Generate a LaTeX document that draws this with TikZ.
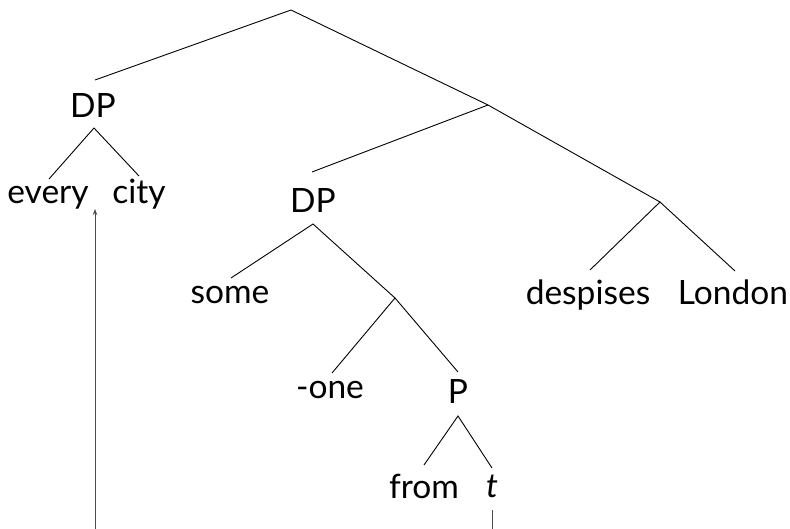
\documentclass[tikz,border=0pt]{standalone}
\usepackage{fontspec}
\setmainfont{Lato}
\usetikzlibrary{arrows.meta}
\begin{document}
\begin{tikzpicture}[x=1pt,y=-1pt,
  lbl/.style={inner sep=0pt,anchor=base,font=\fontsize{33.5}{36}\selectfont},
  branch/.style={line width=0.9pt,black},
  move/.style={line width=0.9pt,black!70}]
\useasboundingbox (0,0) rectangle (790,529);

% branching points and line ends
\coordinate (root) at (291,10);
\coordinate (vp) at (488,105);
\coordinate (vbar) at (660,202);
\coordinate (np) at (395,298);
\coordinate (dpAtop) at (95,80);
\coordinate (dpAbot) at (94,128);
\coordinate (everytop) at (49,179);
\coordinate (citytop) at (139,176);
\coordinate (dpBtop) at (312,172);
\coordinate (dpBbot) at (313,224);
\coordinate (sometop) at (231,278);
\coordinate (onetop) at (332,373);
\coordinate (ptop) at (458,372);
\coordinate (pbot) at (458,416);
\coordinate (fromtop) at (424,465);
\coordinate (ttop) at (492,468);
\coordinate (despisestop) at (590,270);
\coordinate (londontop) at (735,271);
\coordinate (tbot) at (492,510);
\coordinate (tend) at (492,529);
\coordinate (arrstart) at (95,529);
\coordinate (arrend) at (95,209);

% labels (placed on their baselines)
\node[lbl] (dpA) at (93,118) {DP};
\node[lbl] (every) at (48,204) {every};
\node[lbl] (city) at (139,204) {city};
\node[lbl] (dpB) at (313,213) {DP};
\node[lbl] (some) at (230,304) {some};
\node[lbl] (one) at (330,398) {-one};
\node[lbl] (p) at (458,403) {P};
\node[lbl] (from) at (424,498) {from};
\node[lbl] (t) at (492,497) {\itshape t};
\node[lbl] (despises) at (588,305) {despises};
\node[lbl] (london) at (733,305) {London};

% tree branches
\draw[branch] (dpAtop) -- (root) -- (vp) -- (vbar);
\draw[branch] (vp) -- (dpBtop);
\draw[branch] (everytop) -- (dpAbot) -- (citytop);
\draw[branch] (sometop) -- (dpBbot) -- (np);
\draw[branch] (onetop) -- (np) -- (ptop);
\draw[branch] (fromtop) -- (pbot) -- (ttop);
\draw[branch] (despisestop) -- (vbar) -- (londontop);

% movement path
\draw[move] (tbot) -- (tend);
\draw[move,-{Stealth[length=6pt,width=4.5pt]}] (arrstart) -- (arrend);
\end{tikzpicture}
\end{document}
